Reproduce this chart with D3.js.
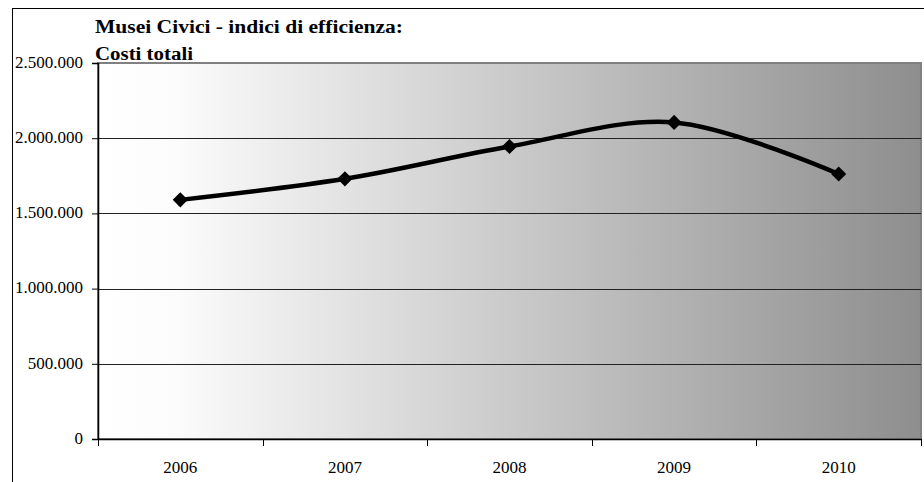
<!DOCTYPE html>
<html>
<head>
<meta charset="utf-8">
<script src="https://cdn.jsdelivr.net/npm/d3@7"></script>
<style>
  body { margin: 0; background: #fff; }
  svg { display: block; }
</style>
</head>
<body>
<svg id="chart"></svg>
<script>
// data
const years = ["2006", "2007", "2008", "2009", "2010"]
const costiTotali = [1590000, 1730000, 1945000, 2105000, 1762000]
const yTicks = [0, 500000, 1000000, 1500000, 2000000, 2500000]
const titleLines = ["Musei Civici - indici di efficienza:", "Costi totali"]

const W = 924, H = 482
const plot = { left: 98, right: 921, top: 63, bottom: 439 }
const serif = "Liberation Serif, Times New Roman, serif"

const svg = d3.select("#chart")
    .attr("width", W)
    .attr("height", H)

const it = d3.formatLocale({ decimal: ",", thousands: ".", grouping: [3], currency: ["", ""] })
const fmt = it.format(",d")

// outer chart border
svg.append("rect")
    .attr("x", 12.5)
    .attr("y", 8.5)
    .attr("width", W + 20)
    .attr("height", H + 20)
    .attr("fill", "#fff")
    .attr("stroke", "#000")
    .attr("stroke-width", 1)

const xscl = d3.scaleBand()
    .domain(years)
    .range([plot.left, plot.right])
    .padding(0)

const yscl = d3.scaleLinear()
    .domain([0, 2500000])
    .range([plot.bottom, plot.top])

// background gradient of the plot area
const grad = svg.append("defs").append("linearGradient")
    .attr("id", "bg")
    .attr("x1", "0%").attr("x2", "100%")
    .attr("y1", "0%").attr("y2", "0%")
grad.append("stop").attr("offset", "0%").attr("stop-color", "#ffffff")
grad.append("stop").attr("offset", "9%").attr("stop-color", "#fcfcfc")
grad.append("stop").attr("offset", "100%").attr("stop-color", "#8e8e8e")

svg.append("rect")
    .attr("x", plot.left)
    .attr("y", plot.top)
    .attr("width", plot.right - plot.left)
    .attr("height", plot.bottom - plot.top)
    .attr("fill", "url(#bg)")
    .attr("stroke", "#808080")
    .attr("stroke-width", 2)

// gridlines
svg.append("g")
    .selectAll("line")
    .data(yTicks.filter(d => d > 0 && d < 2500000))
    .enter().append("line")
    .attr("x1", plot.left)
    .attr("x2", plot.right)
    .attr("y1", d => Math.round(yscl(d)) + 0.5)
    .attr("y2", d => Math.round(yscl(d)) + 0.5)
    .attr("stroke", "#222")
    .attr("stroke-width", 1)

// y axis
const y_axis = d3.axisLeft(yscl)
    .tickValues(yTicks)
    .tickFormat(fmt)
    .tickSize(6)
    .tickPadding(9)

const gy = svg.append("g")
    .attr("transform", `translate(${plot.left},0)`)
    .call(y_axis)
    .attr("font-family", serif)
    .attr("font-size", 17)
gy.select(".domain").attr("stroke", "#000").attr("stroke-width", 1.5)
gy.selectAll(".tick line").attr("stroke", "#000")
gy.selectAll("text")
    .attr("fill", "#000")
    .attr("dy", "0.25em")

// x axis
const x_axis = d3.axisBottom(xscl)
    .tickSize(0)
    .tickPadding(22)

const gx = svg.append("g")
    .attr("transform", `translate(0,${plot.bottom})`)
    .call(x_axis)
    .attr("font-family", serif)
    .attr("font-size", 17)
gx.select(".domain").attr("stroke", "#000").attr("stroke-width", 1.5)
gx.selectAll("text")
    .attr("fill", "#000")

// category boundary ticks
const bounds = years.map(d => xscl(d)).concat([plot.right])
svg.append("g")
    .selectAll("line")
    .data(bounds)
    .enter().append("line")
    .attr("x1", d => Math.round(d) + 0.5)
    .attr("x2", d => Math.round(d) + 0.5)
    .attr("y1", plot.bottom)
    .attr("y2", plot.bottom + 7)
    .attr("stroke", "#000")

// line
const data = years.map((y, i) => ({ x: y, y: costiTotali[i] }))
const cx = d => xscl(d.x) + xscl.bandwidth() / 2

const line = d3.line()
    .x(cx)
    .y(d => yscl(d.y))
    .curve(d3.curveCatmullRom.alpha(0.5))

svg.append("path")
    .datum(data)
    .attr("fill", "none")
    .attr("stroke", "#000")
    .attr("stroke-width", 4.5)
    .attr("stroke-linejoin", "round")
    .attr("d", line)

// diamond markers
const diamond = d3.symbol().type(d3.symbolSquare).size(115)
svg.append("g")
    .selectAll("path")
    .data(data)
    .enter().append("path")
    .attr("d", diamond)
    .attr("transform", d => `translate(${cx(d)},${yscl(d.y)}) rotate(45)`)
    .attr("fill", "#000")

// title
svg.append("g")
    .attr("font-family", serif)
    .attr("font-size", 18.5)
    .attr("font-weight", "bold")
    .selectAll("text")
    .data(titleLines)
    .enter().append("text")
    .attr("x", 95)
    .attr("y", (d, i) => 33 + i * 27)
    .attr("textLength", (d, i) => i === 0 ? 308 : 98)
    .attr("lengthAdjust", "spacingAndGlyphs")
    .attr("fill", "#000")
    .text(d => d)
</script>
</body>
</html>
